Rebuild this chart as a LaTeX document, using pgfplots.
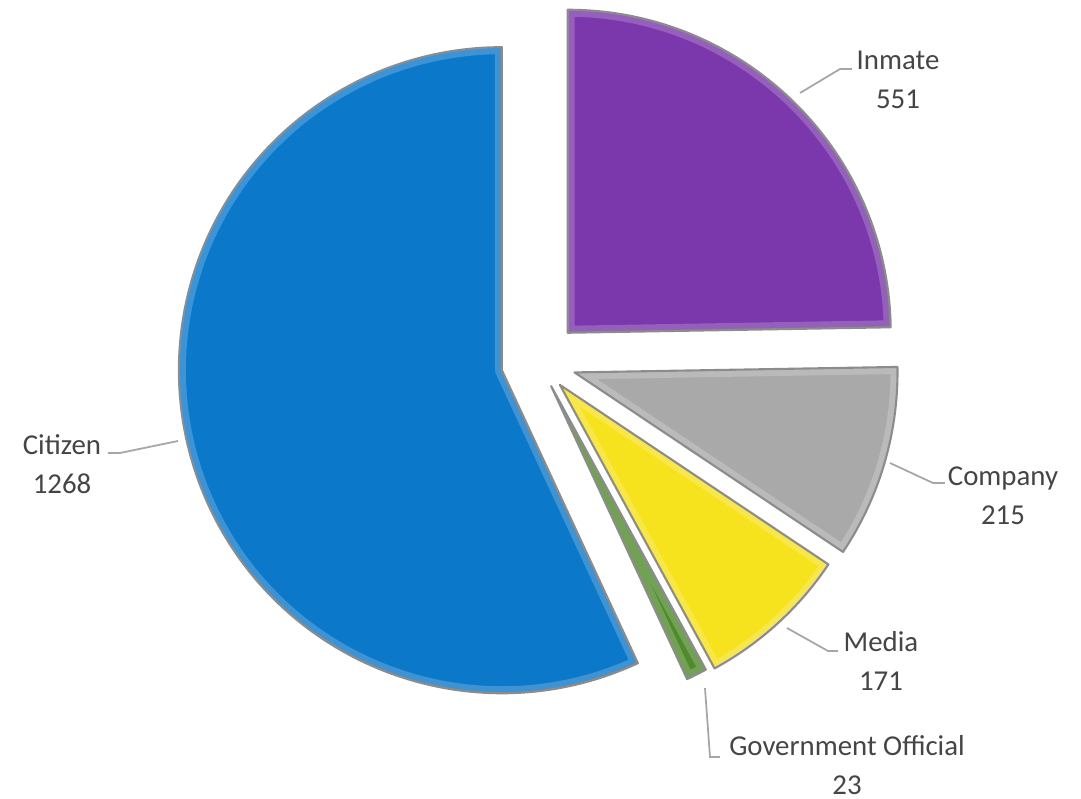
\documentclass[border=0pt]{standalone}
\usepackage{pgfplots}
\pgfplotsset{compat=1.18}
\usepackage{pgfplotstable}
\usepackage{fontspec}
\setmainfont{Carlito}
\usetikzlibrary{calc}
\definecolor{cInm}{HTML}{7A38AC}
\definecolor{cCom}{HTML}{A9A9A9}
\definecolor{cMed}{HTML}{F7E21E}
\definecolor{cGov}{HTML}{4F8A2C}
\definecolor{cCit}{HTML}{0C78CA}
\definecolor{labc}{HTML}{454545}
\definecolor{leadc}{HTML}{A6A6A6}

\pgfplotstableread{
name value explode
Inmate 551 0.41
Company 215 0.37
Media 171 0.31
Government 23 0.27
Citizen 1268 0.38
}\piedata

\newcommand\pieslice[4]{%
  \pgfmathsetmacro\pmid{(#1+#2)/2}%
  \edef\piepath{($(axis cs:539,437)+(\pmid:#3cm)$) -- ++(#1:3.23cm)
    arc[start angle=#1, end angle=#2, radius=3.23cm] -- cycle}%
  \edef\pietmp{\noexpand\begin{scope}
    \noexpand\fill[#4] \piepath;
    \noexpand\clip \piepath;
    \noexpand\draw[#4!55!white, line width=0.14cm, opacity=0.45, line join=round] \piepath;
    \noexpand\end{scope}
    \noexpand\draw[black!45, line width=0.6pt, line join=round] \piepath;}%
  \pietmp}

\begin{document}
\begin{tikzpicture}
\pgfplotstablegetelem{0}{value}\of\piedata \pgfmathsetmacro\vA{\pgfplotsretval}
\pgfplotstablegetelem{1}{value}\of\piedata \pgfmathsetmacro\vB{\pgfplotsretval}
\pgfplotstablegetelem{2}{value}\of\piedata \pgfmathsetmacro\vC{\pgfplotsretval}
\pgfplotstablegetelem{3}{value}\of\piedata \pgfmathsetmacro\vD{\pgfplotsretval}
\pgfplotstablegetelem{4}{value}\of\piedata \pgfmathsetmacro\vE{\pgfplotsretval}
\pgfplotstablegetelem{0}{explode}\of\piedata \edef\eA{\pgfplotsretval}
\pgfplotstablegetelem{1}{explode}\of\piedata \edef\eB{\pgfplotsretval}
\pgfplotstablegetelem{2}{explode}\of\piedata \edef\eC{\pgfplotsretval}
\pgfplotstablegetelem{3}{explode}\of\piedata \edef\eD{\pgfplotsretval}
\pgfplotstablegetelem{4}{explode}\of\piedata \edef\eE{\pgfplotsretval}
\pgfmathsetmacro\tot{\vA+\vB+\vC+\vD+\vE}
\pgfmathsetmacro\aA{90}
\pgfmathsetmacro\aB{\aA-360*(\vA/\tot)}
\pgfmathsetmacro\aC{\aB-360*(\vB/\tot)}
\pgfmathsetmacro\aD{\aC-360*(\vC/\tot)}
\pgfmathsetmacro\aE{\aD-360*(\vD/\tot)}
\pgfmathsetmacro\aF{\aE-360*(\vE/\tot)}
\begin{axis}[scale only axis, width=10.81cm, height=7.99cm,
  xmin=0, xmax=1081, ymin=0, ymax=799, hide axis, clip=false]
\pieslice{\aA}{\aB}{\eA}{cInm}
\pieslice{\aB}{\aC}{\eB}{cCom}
\pieslice{\aC}{\aD}{\eC}{cMed}
\pieslice{\aD}{\aE}{\eD}{cGov}
\pieslice{\aE}{\aF}{\eE}{cCit}
\draw[leadc, line width=0.5pt] (axis cs:800,706) -- (axis cs:840,730) -- (axis cs:852,730);
\draw[leadc, line width=0.5pt] (axis cs:890,336) -- (axis cs:933,316) -- (axis cs:945,316);
\draw[leadc, line width=0.5pt] (axis cs:787,171) -- (axis cs:828,148) -- (axis cs:838,148);
\draw[leadc, line width=0.5pt] (axis cs:705,111) -- (axis cs:710,42) -- (axis cs:720,42);
\draw[leadc, line width=0.5pt] (axis cs:178,358) -- (axis cs:120,346) -- (axis cs:108,346);
\tikzset{lab/.style={align=center, text=labc, font=\fontsize{8.2}{11}\selectfont, inner sep=0pt}}
\node[lab] at (axis cs:898,719) {Inmate\\551};
\node[lab] at (axis cs:1003,303) {Company\\215};
\node[lab] at (axis cs:881,138) {Media\\171};
\node[lab] at (axis cs:847,34) {Government Official\\23};
\node[lab] at (axis cs:62,335) {Citizen\\1268};
\end{axis}
\pgfresetboundingbox
\path[use as bounding box] (current axis.south west) rectangle (current axis.north east);
\end{tikzpicture}
\end{document}
